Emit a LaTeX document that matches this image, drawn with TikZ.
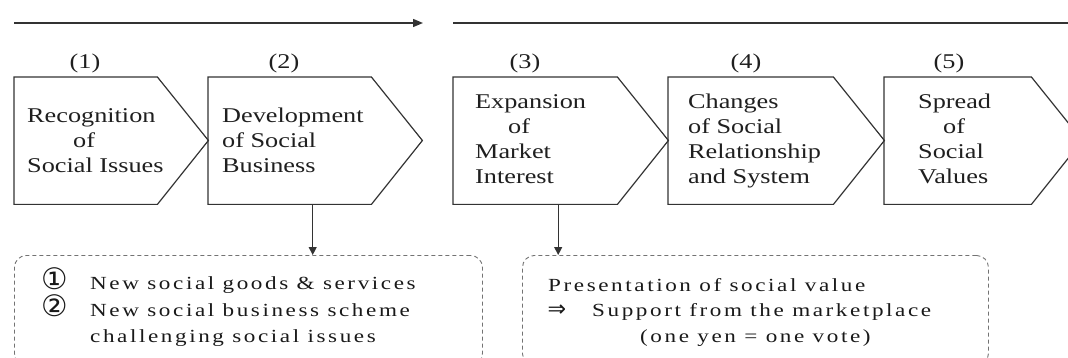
\documentclass[tikz,border=0pt]{standalone}
\usepackage{fontspec}
\setmainfont{Liberation Serif}[FakeStretch=1.25]
\newfontfamily\notefont{Liberation Serif}[FakeStretch=1.25,LetterSpace=14]
\newfontfamily\circfont{DejaVu Sans}[Scale=1.6]
\newfontfamily\arrowfont{DejaVu Sans}[Scale=1.2]
\usetikzlibrary{arrows.meta}

\begin{document}
\begin{tikzpicture}[x=1pt, y=-1pt,
    stage/.style={rectangle, minimum height=127pt, inner sep=0pt, anchor=north west},
    outline/.style={draw=black!80, line width=1.2pt, line join=miter},
    stagetext/.style={anchor=base west, align=left, inner sep=0pt,
      font=\fontsize{21}{25}\selectfont, text=black!88},
    numlabel/.style={anchor=base, inner sep=0pt, font=\fontsize{21}{25}\selectfont, text=black!88},
    note/.style={rectangle, anchor=north west, draw=black!55, line width=0.9pt,
      dash pattern=on 4pt off 3pt, rounded corners=12pt},
    notetext/.style={anchor=base west, align=left, inner sep=0pt,
      font=\notefont\fontsize{18.5}{25.5}\selectfont, text=black!90},
    flow/.style={draw=black!80, line width=1.4pt},
    down/.style={draw=black!80, line width=1.2pt, -{Triangle[length=8pt,width=8pt]}}]
  \clip (0,0) rectangle (1068,358);
  % time line
  \coordinate (past0) at (14,23);
  \coordinate (past1) at (423,23);
  \coordinate (next0) at (453,23);
  \coordinate (next1) at (1068,23);
  \draw[flow, -{Triangle[length=10pt,width=8pt]}] (past0) -- (past1);
  \draw[flow] (next0) -- (next1);
  % stages
  \node[stage, minimum width=143pt] (s1) at (14,77) {};
  \node[stage, minimum width=163pt] (s2) at (208,77) {};
  \node[stage, minimum width=164pt] (s3) at (453,77) {};
  \node[stage, minimum width=165pt] (s4) at (668,77) {};
  \node[stage, minimum width=147pt] (s5) at (884,77) {};
  \foreach \s in {s1,s2,s3,s4,s5}
    \draw[outline] (\s.north west) -- (\s.north east) -- ++(51,63.5)
      -- (\s.south east) -- (\s.south west) -- cycle;
  % stage numbers
  \node[numlabel] (l1) at (85,69) {(1)};
  \node[numlabel] (l2) at (284,69) {(2)};
  \node[numlabel] (l3) at (525,69) {(3)};
  \node[numlabel] (l4) at (746,69) {(4)};
  \node[numlabel] (l5) at (949,69) {(5)};
  % stage texts (anchored at the last baseline)
  \node[stagetext] (t1) at (27,173) {Recognition\\\hspace*{46pt}of\\Social Issues};
  \node[stagetext] (t2) at (222,173) {Development\\of Social\\Business};
  \node[stagetext] (t3) at (475,184) {Expansion\\\hspace*{33pt}of\\Market\\Interest};
  \node[stagetext] (t4) at (688,184) {Changes\\of Social\\Relationship\\and System};
  \node[stagetext] (t5) at (918,184) {Spread\\\hspace*{25pt}of\\Social\\Values};
  % notes
  \node[note, minimum width=468pt, minimum height=110pt] (nA) at (14,255) {};
  \node[note, minimum width=466pt, minimum height=110pt] (nB) at (522,255) {};
  \node[notetext] (tA) at (90,342) {\llap{\circfont ①\hspace{22pt}}New social goods \& services\\
    \llap{\circfont ②\hspace{22pt}}New social business scheme\\
    challenging social issues};
  \node[notetext] (tB) at (548,342) {Presentation of social value\\
    \hspace*{44pt}\llap{\arrowfont ⇒\hspace{26pt}}Support from the marketplace\\
    \hspace*{92pt}(one yen = one vote)};
  % arrows down
  \draw[down] ([xshift=23pt]s2.south) -- ([xshift=23pt]s2.south |- nA.north);
  \draw[down] ([xshift=23pt]s3.south) -- ([xshift=23pt]s3.south |- nB.north);
\end{tikzpicture}
\end{document}
